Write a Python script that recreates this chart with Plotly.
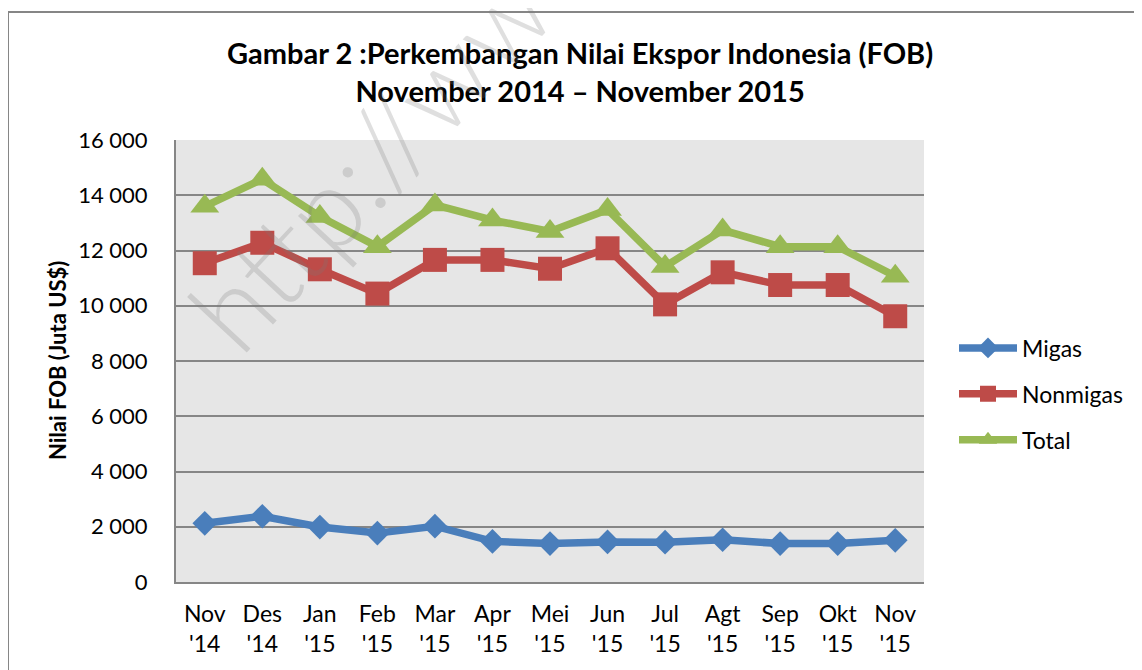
import plotly.graph_objects as go

months = ["Nov<br>'14", "Des<br>'14", "Jan<br>'15", "Feb<br>'15", "Mar<br>'15", "Apr<br>'15",
          "Mei<br>'15", "Jun<br>'15", "Jul<br>'15", "Agt<br>'15", "Sep<br>'15", "Okt<br>'15", "Nov<br>'15"]
migas = [2125, 2380, 1990, 1770, 2020, 1470, 1390, 1450, 1440, 1530, 1390, 1390, 1510]
nonmigas = [11540, 12280, 11320, 10440, 11660, 11660, 11340, 12080, 10050, 11210, 10750, 10750, 9620]
total = [13600, 14580, 13230, 12140, 13650, 13100, 12690, 13480, 11420, 12740, 12140, 12140, 11070]
ytick_vals = [0, 2000, 4000, 6000, 8000, 10000, 12000, 14000, 16000]
ytick_text = ["0", "2 000", "4 000", "6 000", "8 000", "10 000", "12 000", "14 000", "16 000"]

FONT = "Lato"
W, H = 1134, 662
L, T, PW, PH = 168, 132, 748, 442


def px(fx):
    return (fx - L) / PW


def py(fy):
    return 1 - (fy - T) / PH


fig = go.Figure()
series = [
    ("Migas", migas, "#4A7EBB", "diamond", 19),
    ("Nonmigas", nonmigas, "#BE4B48", "square", 24),
    ("Total", total, "#98B954", "triangle-up", 25),
]
for name, vals, col, sym, sz in series:
    fig.add_trace(go.Scatter(
        x=months, y=vals, name=name, mode="lines+markers",
        line=dict(color=col, width=7.5),
        marker=dict(symbol=sym, size=sz, color=col, line=dict(width=0)),
        legendgroup=name,
    ))

fig.update_layout(
    width=W, height=H,
    paper_bgcolor="white", plot_bgcolor="#E6E6E6",
    margin=dict(l=L, r=W - L - PW, t=T, b=H - T - PH),
    font=dict(family=FONT, size=22, color="black"),
    showlegend=True,
    legend=dict(x=px(946), y=py(386), xanchor="left", yanchor="middle",
                font=dict(size=23, family=FONT), traceorder="grouped",
                tracegroupgap=13, itemwidth=58, bgcolor="rgba(0,0,0,0)"),
    xaxis=dict(showgrid=False, showline=True, linecolor="#868686", linewidth=2,
               ticks="", tickfont=dict(size=23), range=[-0.5, 12.5],
               ticklabelstandoff=10),
    yaxis=dict(range=[0, 16000], tickvals=ytick_vals, ticktext=ytick_text,
               showgrid=True, gridcolor="#868686", gridwidth=2,
               showline=True, linecolor="#868686", linewidth=2, ticks="",
               zeroline=False, tickfont=dict(size=22), ticklabelstandoff=22),
)

# y-axis title
fig.add_annotation(
    text="<b>Nilai FOB (Juta US$)</b>", xref="paper", yref="paper",
    x=px(49), y=0.5, textangle=-90, showarrow=False,
    xanchor="center", yanchor="middle", font=dict(size=22, family=FONT, color="black"),
)

# title
fig.add_annotation(
    text="<b>Gambar 2 :Perkembangan Nilai Ekspor Indonesia (FOB)<br>November 2014 – November 2015</b>",
    xref="paper", yref="paper", x=px(572), y=py(63.5),
    xanchor="center", yanchor="middle", showarrow=False,
    font=dict(size=29, family=FONT, color="black"), align="center",
)

# Watermark
fig.add_annotation(
    text="http://ww", xref="paper", yref="paper",
    x=px(360), y=py(150), showarrow=False,
    textangle=-47, font=dict(size=112, family=FONT, weight=300, color="rgba(120,120,120,0.24)"),
    xanchor="center", yanchor="middle",
)

# outer frame
fig.add_shape(type="rect", xref="paper", yref="paper",
              x0=px(0), x1=px(W + 20),
              y0=py(H + 20), y1=py(4),
              line=dict(color="#868686", width=2), fillcolor="rgba(0,0,0,0)", layer="below")

fig.write_html("out.html")
